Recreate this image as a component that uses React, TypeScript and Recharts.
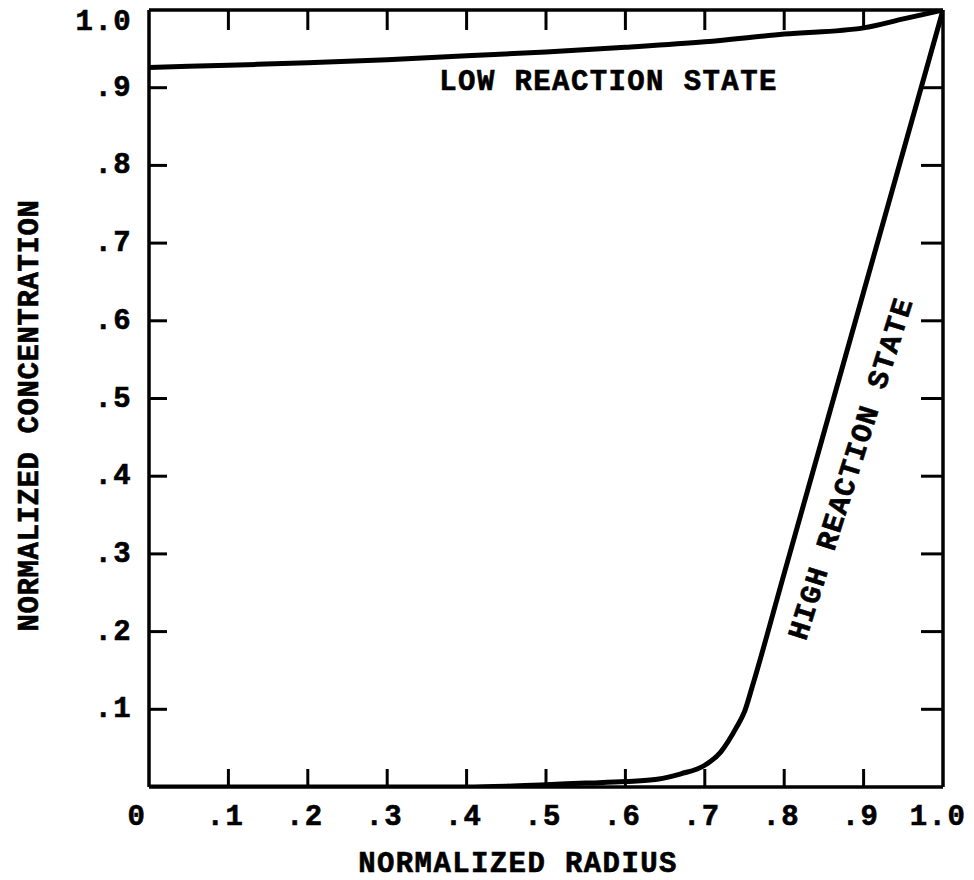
import React from 'react';
import { LineChart, Line, XAxis, YAxis, ReferenceDot, Label } from 'recharts';

// ---- data ----
const radiusLow = [0, 0.1, 0.2, 0.3, 0.4, 0.5, 0.6, 0.7, 0.8, 0.9, 0.95, 1.0];
const concLow = [0.926, 0.929, 0.932, 0.936, 0.941, 0.946, 0.952, 0.959, 0.969, 0.977, 0.9885, 1.0];

const radiusHigh = [0, 0.1, 0.2, 0.3, 0.4, 0.45, 0.5, 0.55, 0.6, 0.64, 0.67, 0.7, 0.72, 0.74, 0.75, 0.76, 0.8, 0.9, 1.0];
const concHigh = [0, 0, 0, 0, 0, 0.001, 0.003, 0.005, 0.007, 0.01, 0.017, 0.028, 0.045, 0.077, 0.097, 0.13, 0.275, 0.637, 1.0];

const xTicks = [0, 0.1, 0.2, 0.3, 0.4, 0.5, 0.6, 0.7, 0.8, 0.9, 1.0];
const xTickLabels = ['0', '.1', '.2', '.3', '.4', '.5', '.6', '.7', '.8', '.9', '1.0'];
const yTicks = [0.1, 0.2, 0.3, 0.4, 0.5, 0.6, 0.7, 0.8, 0.9, 1.0];
const yTickLabels = ['.1', '.2', '.3', '.4', '.5', '.6', '.7', '.8', '.9', '1.0'];

const xTitle = 'NORMALIZED RADIUS';
const yTitle = 'NORMALIZED CONCENTRATION';
const lowLabel = 'LOW REACTION STATE';
const highLabel = 'HIGH REACTION STATE';
const lowLabelAt = { r: 0.58, c: 0.906 };
const highLabelAt = { r: 0.887, c: 0.408 };

const lowData = radiusLow.map((r, i) => ({ r, c: concLow[i] }));
const highData = radiusHigh.map((r, i) => ({ r, c: concHigh[i] }));

// ---- styles ----
const textStyle: any = {
  fontFamily: '"Liberation Mono", "DejaVu Sans Mono", monospace',
  fontWeight: 'bold',
  fontSize: 29,
  letterSpacing: 1.4,
  fill: '#000',
  stroke: '#000',
  strokeWidth: 0.6,
};
const INK = '#000';
const TICK_W = 3;
const AXIS_W = 3.5;

const BottomTick = (props: any) => {
  const { x, y, payload } = props;
  const v = payload.value;
  const idx = xTicks.indexOf(v);
  const dx = v === 0 ? -12 : v === 1 ? -5 : -3;
  const inner = v > 0 && v < 1;
  return (
    <g>
      {inner && <line x1={x} y1={y} x2={x} y2={y - 18} stroke={INK} strokeWidth={TICK_W} />}
      <text x={x + dx} y={y + 38} textAnchor="middle" style={textStyle}>
        {xTickLabels[idx]}
      </text>
    </g>
  );
};

const TopTick = (props: any) => {
  const { x, y, payload } = props;
  const v = payload.value;
  if (!(v > 0 && v < 1)) return <g />;
  return <line x1={x} y1={y} x2={x} y2={y + 20} stroke={INK} strokeWidth={TICK_W} />;
};

const LeftTick = (props: any) => {
  const { x, y, payload } = props;
  const v = payload.value;
  const idx = yTicks.indexOf(v);
  const inner = v > 0 && v < 1;
  const baseline = v === 1 ? y + 20 : y + 8;
  return (
    <g>
      {inner && <line x1={x} y1={y} x2={x + 18} y2={y} stroke={INK} strokeWidth={TICK_W} />}
      <text x={x - 17} y={baseline} textAnchor="end" style={textStyle}>
        {yTickLabels[idx]}
      </text>
    </g>
  );
};

const RightTick = (props: any) => {
  const { x, y, payload } = props;
  const v = payload.value;
  if (!(v > 0 && v < 1)) return <g />;
  return <line x1={x} y1={y} x2={x - 22} y2={y} stroke={INK} strokeWidth={TICK_W} />;
};

export default function App() {
  return (
    <div style={{ position: 'absolute', left: 0, top: 0, width: 974, height: 880, background: '#fff' }}>
      <LineChart width={974} height={880} margin={{ top: 9, right: 30, bottom: 92, left: 148 }}>
        <XAxis
          dataKey="r"
          type="number"
          domain={[0, 1]}
          ticks={xTicks}
          interval={0}
          height={1}
          tickSize={0}
          tickMargin={0}
          tickLine={false}
          axisLine={{ stroke: INK, strokeWidth: AXIS_W }}
          tick={BottomTick}
          allowDataOverflow
        >
          <Label
            content={(p: any) => {
              const vb = p.viewBox || {};
              return (
                <text x={vb.x + vb.width / 2 - 28} y={vb.y + 85} textAnchor="middle" style={textStyle}>
                  {xTitle}
                </text>
              );
            }}
          />
        </XAxis>
        <XAxis
          xAxisId="top"
          orientation="top"
          dataKey="r"
          type="number"
          domain={[0, 1]}
          ticks={xTicks}
          interval={0}
          height={1}
          tickSize={0}
          tickMargin={0}
          tickLine={false}
          axisLine={{ stroke: INK, strokeWidth: AXIS_W }}
          tick={TopTick}
          allowDataOverflow
        />
        <YAxis
          type="number"
          domain={[0, 1]}
          ticks={yTicks}
          interval={0}
          width={1}
          tickSize={0}
          tickMargin={0}
          tickLine={false}
          axisLine={{ stroke: INK, strokeWidth: AXIS_W }}
          tick={LeftTick}
          allowDataOverflow
        >
          <Label
            content={(p: any) => {
              const vb = p.viewBox || {};
              const cx = vb.x - 118;
              const cy = vb.y + vb.height / 2 + 17;
              return (
                <text
                  x={cx}
                  y={cy}
                  textAnchor="middle"
                  dominantBaseline="central"
                  transform={`rotate(-90, ${cx}, ${cy})`}
                  style={{ ...textStyle, letterSpacing: 0.6 }}
                >
                  {yTitle}
                </text>
              );
            }}
          />
        </YAxis>
        <YAxis
          yAxisId="right"
          orientation="right"
          type="number"
          domain={[0, 1]}
          ticks={yTicks}
          interval={0}
          width={1}
          tickSize={0}
          tickMargin={0}
          tickLine={false}
          axisLine={{ stroke: INK, strokeWidth: AXIS_W }}
          tick={RightTick}
          allowDataOverflow
        />
        <Line
          data={lowData}
          dataKey="c"
          type="monotone"
          stroke={INK}
          strokeWidth={5}
          dot={false}
          activeDot={false}
          isAnimationActive={false}
        />
        <Line
          data={highData}
          dataKey="c"
          type="monotone"
          stroke={INK}
          strokeWidth={5}
          dot={false}
          activeDot={false}
          isAnimationActive={false}
        />
        <ReferenceDot
          x={lowLabelAt.r}
          y={lowLabelAt.c}
          r={1}
          fill="none"
          stroke="none"
          label={(p: any) => {
            const vb = p.viewBox || {};
            return (
              <text x={vb.x} y={vb.y} textAnchor="middle" dominantBaseline="central" style={textStyle}>
                {lowLabel}
              </text>
            );
          }}
        />
        <ReferenceDot
          x={highLabelAt.r}
          y={highLabelAt.c}
          r={1}
          fill="none"
          stroke="none"
          label={(p: any) => {
            const vb = p.viewBox || {};
            const cx = vb.x;
            const cy = vb.y;
            return (
              <text
                x={cx}
                y={cy}
                textAnchor="middle"
                dominantBaseline="central"
                transform={`rotate(-72.5, ${cx}, ${cy})`}
                style={textStyle}
              >
                {highLabel}
              </text>
            );
          }}
        />
      </LineChart>
    </div>
  );
}
